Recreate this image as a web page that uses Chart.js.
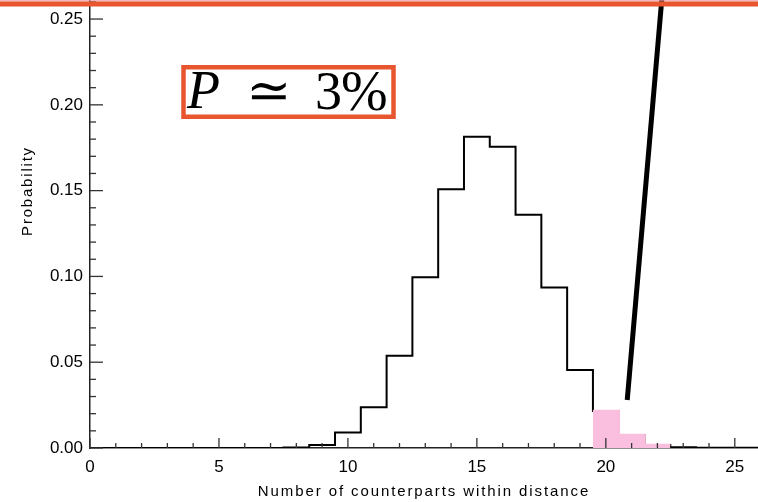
<!DOCTYPE html>
<html><head><meta charset="utf-8">
<script src="https://cdn.jsdelivr.net/npm/chart.js@4/dist/chart.umd.min.js"></script>
<style>html,body{margin:0;padding:0;background:#fff;overflow:hidden}#wrap{position:relative;width:758px;height:502px}</style>
</head><body><div id="wrap"><canvas id="c" width="758" height="502"></canvas></div>
<script>
// ---- data ----
const binCenters = [0,1,2,3,4,5,6,7,8,9,10,11,12,13,14,15,16,17,18,19,20,21,22,23,24,25,26];
const probability = [0,0,0,0,0,0,0,0,0.0003,0.0017,0.0091,0.0237,0.0538,0.0995,0.1508,0.1814,0.1756,0.1360,0.0936,0.0455,0.0216,0.0076,0.0018,0.0004,0.0001,0.0001,0.0001];
const shadedBins = [20,21,22];
const shadedProb = [0.0216,0.0076,0.0018];
const markerX = [20.83, 22.17];
const markerY = [0.028, 0.2615];
const yTickValues = [0,0.05,0.10,0.15,0.20,0.25];
const xTickValues = [0,5,10,15,20,25];
const xTitle = 'Number of counterparts within distance';
const yTitle = 'Probability';
const annotation = ['P','\u2243','3','%'];

// step points built from the bins (left edge of each bin, plus the last right edge)
function stepPoints(centers, vals){
  const pts = centers.map((c,i)=>({x:c-0.5,y:vals[i]}));
  pts.push({x:centers[centers.length-1]+0.5,y:vals[vals.length-1]});
  return pts;
}

const SANS = '"Liberation Sans", Arial, sans-serif';
const PINK = 'rgb(250,190,222)';

const extras = {
  id:'extras',
  afterDatasetsDraw(chart){
    const ctx = chart.ctx, xs = chart.scales.x, ys = chart.scales.y;
    ctx.save();
    ctx.strokeStyle = '#333'; ctx.lineWidth = 1.3;
    const yb = ys.getPixelForValue(0), xl = xs.getPixelForValue(0);
    for(let i=0;i<=26;i++){
      const px = xs.getPixelForValue(i);
      if(px>chart.chartArea.right) break;
      const len = (i%5===0)?10:5;
      ctx.beginPath(); ctx.moveTo(px,yb); ctx.lineTo(px,yb-len); ctx.stroke();
    }
    for(let k=0;k<=26;k++){
      const py = ys.getPixelForValue(k/100);
      if(py<chart.chartArea.top) break;
      const len = (k%5===0)?13:6;
      ctx.beginPath(); ctx.moveTo(xl,py); ctx.lineTo(xl+len,py); ctx.stroke();
    }
    ctx.restore();
  },
  afterDraw(chart){
    const ctx = chart.ctx, W = chart.width;
    // x title
    ctx.save();
    ctx.fillStyle = '#000';
    ctx.font = '15px ' + SANS;
    ctx.letterSpacing = '1.9px';
    ctx.textAlign = 'center'; ctx.textBaseline = 'middle';
    ctx.fillText(xTitle, (chart.chartArea.left+chart.chartArea.right)/2, 492);
    ctx.restore();
    // y title
    ctx.save();
    ctx.fillStyle = '#000';
    ctx.font = '15px ' + SANS;
    ctx.letterSpacing = '1.8px';
    ctx.translate(28, 191); ctx.rotate(-Math.PI/2);
    ctx.textAlign = 'center'; ctx.textBaseline = 'middle';
    ctx.fillText(yTitle, 0, 0);
    ctx.restore();
    // annotation box
    ctx.save();
    ctx.fillStyle = '#fff';
    ctx.fillRect(183, 67, 211, 50);
    ctx.strokeStyle = '#e8562f'; ctx.lineWidth = 4.5;
    ctx.strokeRect(183.5, 67.25, 210, 49.5);
    ctx.fillStyle = '#000';
    ctx.textBaseline = 'alphabetic'; ctx.textAlign = 'left';
    ctx.font = 'italic 54px "Liberation Serif", "DejaVu Serif", serif';
    ctx.fillText(annotation[0], 187, 108);
    ctx.font = '54px "DejaVu Serif", serif';
    ctx.fillText(annotation[1], 246, 109);
    ctx.font = '54px "Liberation Serif", "DejaVu Serif", serif';
    ctx.fillText(annotation[2], 315, 109);
    ctx.font = '56px "Liberation Serif", "DejaVu Serif", serif';
    ctx.fillText(annotation[3], 341, 110);
    ctx.restore();
    // top red line
    ctx.save();
    ctx.fillStyle = 'rgba(240,150,160,0.7)';
    ctx.fillRect(0, 0, W, 1.5);
    ctx.fillStyle = '#e8552f';
    ctx.fillRect(0, 1.5, W, 5);
    ctx.restore();
  }
};

new Chart(document.getElementById('c'), {
  type:'line',
  data:{datasets:[
    {data:stepPoints(shadedBins, shadedProb), stepped:'before', fill:'origin',
     backgroundColor:PINK, borderColor:PINK, borderWidth:2.5, pointRadius:0, order:0},
    {data:stepPoints(binCenters, probability), stepped:'before', fill:false,
     borderColor:'#000', borderWidth:2, pointRadius:0, order:1},
    {data:markerX.map((x,i)=>({x:x,y:markerY[i]})), fill:false,
     borderColor:'#000', borderWidth:5, pointRadius:0, order:-1}
  ]},
  options:{
    responsive:false, devicePixelRatio:1, animation:false,
    layout:{padding:0},
    plugins:{legend:{display:false}, tooltip:{enabled:false}},
    scales:{
      x:{type:'linear', min:0, max:25.9, offset:false,
        grid:{display:false, drawTicks:false},
        border:{display:true, color:'#222', width:1.5},
        ticks:{stepSize:5, includeBounds:false, padding:9, color:'#000',
          font:{family:SANS, size:17},
          callback:(v)=>xTickValues.includes(v)?String(v):null},
        title:{display:false, text:xTitle},
        afterFit(s){s.height=54; s.paddingLeft=0; s.paddingRight=0;}
      },
      y:{min:0, max:0.2611,
        grid:{display:false, drawTicks:false},
        border:{display:true, color:'#222', width:1.5},
        ticks:{stepSize:0.05, includeBounds:false, padding:7, color:'#000',
          font:{family:SANS, size:17},
          callback:(v)=>{const m=yTickValues.find(t=>Math.abs(t-v)<1e-9);return m===undefined?null:m.toFixed(2);}},
        title:{display:false, text:yTitle},
        afterFit(s){s.width=90; s.paddingTop=0; s.paddingBottom=0;}
      }
    }
  },
  plugins:[extras]
});
</script></body></html>
